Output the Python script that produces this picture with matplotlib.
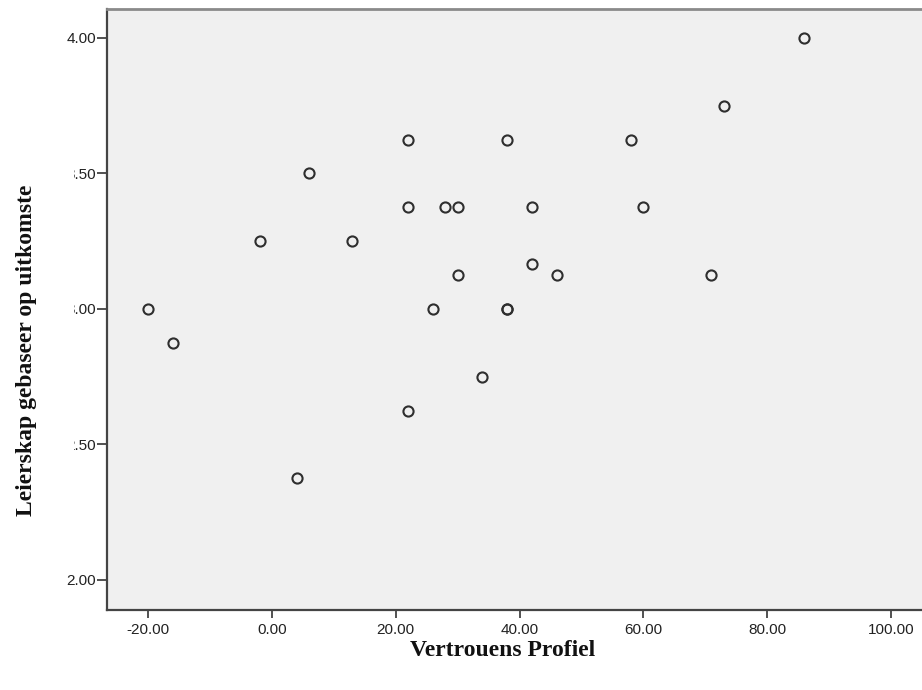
import matplotlib
matplotlib.use("Agg")
import matplotlib.pyplot as plt
from matplotlib.ticker import FormatStrFormatter

# Data
vertrouens = [86, 73, 22, 38, 58, 6, 22, 28, 30, 42, 60, -2, 13, 42, 30, 46, 71,
              -20, 26, 38, 38, -16, 34, 22, 4]
leierskap = [4.00, 3.75, 3.625, 3.625, 3.625, 3.50, 3.375, 3.375, 3.375, 3.375, 3.375,
             3.25, 3.25, 3.1667, 3.125, 3.125, 3.125, 3.00, 3.00, 3.00, 3.00,
             2.875, 2.75, 2.625, 2.375]
x_ticks = [-20, 0, 20, 40, 60, 80, 100]
y_ticks = [2.00, 2.50, 3.00, 3.50, 4.00]
x_label = "Vertrouens Profiel"
y_label = "Leierskap gebaseer op uitkomste"

W, H = 922, 690
fig = plt.figure(figsize=(W / 100, H / 100), dpi=100)
fig.patch.set_facecolor("white")
ax = fig.add_axes([107 / W, 1 - 610 / H, 1 - 107 / W + 0.002, (610 - 9) / H])
ax.set_facecolor("#f0f0f0")

ax.plot(vertrouens, leierskap, linestyle="none", marker="o", markersize=7.3,
        markerfacecolor="none", markeredgecolor="#2e2e2e", markeredgewidth=1.5)

ax.set_xlim(-26.64, 105.3)
ax.set_ylim(1.889, 4.107)
ax.set_xticks(x_ticks)
ax.set_yticks(y_ticks)
ax.xaxis.set_major_formatter(FormatStrFormatter("%.2f"))
ax.yaxis.set_major_formatter(FormatStrFormatter("%.2f"))

ax.spines["right"].set_visible(False)
ax.spines["top"].set_color("#8a8a8a")
ax.spines["top"].set_linewidth(2.0)
ax.spines["left"].set_color("#444444")
ax.spines["left"].set_linewidth(1.6)
ax.spines["bottom"].set_color("#444444")
ax.spines["bottom"].set_linewidth(1.6)

ax.tick_params(axis="y", direction="out", length=7.5, width=1.2, color="#333333",
               pad=0.5, labelsize=11, labelcolor="#222222")
ax.tick_params(axis="x", direction="out", length=6, width=1.2, color="#333333",
               pad=3, labelsize=11, labelcolor="#222222")
for lab in ax.get_xticklabels() + ax.get_yticklabels():
    lab.set_fontfamily("Liberation Sans")

fig.text(503 / W, 1 - 651 / H, x_label, ha="center", va="center",
         fontsize=17, fontweight="bold", family="Liberation Serif", color="#111111")
ylab = fig.text(27 / W, 1 - 350 / H, y_label, ha="center", va="center", rotation=90,
                fontsize=17, fontweight="bold", family="Liberation Serif", color="#111111",
                bbox=dict(boxstyle="square,pad=1.55", facecolor="white", edgecolor="none"),
                zorder=10)

fig.savefig("out.png", dpi=100)
